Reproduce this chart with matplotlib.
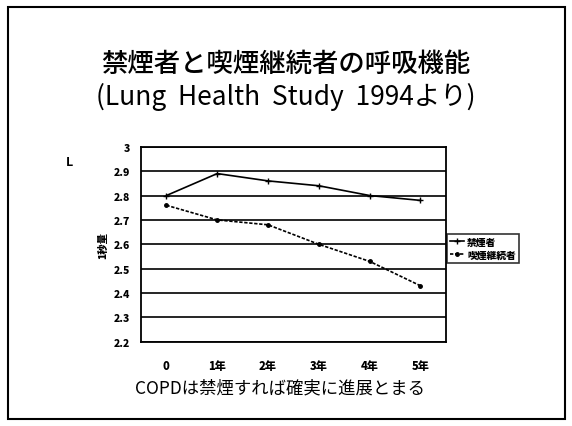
import matplotlib
matplotlib.use("Agg")
import matplotlib.pyplot as plt
from matplotlib.patches import Rectangle

plt.rcParams["font.family"] = ["Noto Sans CJK JP", "DejaVu Sans"]

years = ["0", "1年", "2年", "3年", "4年", "5年"]
quitters = [2.80, 2.89, 2.86, 2.84, 2.80, 2.78]
smokers = [2.76, 2.70, 2.68, 2.60, 2.53, 2.43]
yticks = [2.2, 2.3, 2.4, 2.5, 2.6, 2.7, 2.8, 2.9, 3.0]
ytick_labels = ["2.2", "2.3", "2.4", "2.5", "2.6", "2.7", "2.8", "2.9", "3"]

fig = plt.figure(figsize=(5.72, 4.27), dpi=100)
fig.patches.append(Rectangle((0.014, 0.017), 0.973, 0.965, transform=fig.transFigure,
                             fill=False, ec="black", lw=1.5))

fig.text(0.5, 0.85, "禁煙者と喫煙継続者の呼吸機能", ha="center", va="center",
         fontsize=19, fontweight="medium")
fig.text(0.5, 0.773, "(Lung  Health  Study  1994より)", ha="center", va="center",
         fontsize=19)

ax = fig.add_axes([0.2465, 0.197, 0.533, 0.457])
x = range(len(years))
ax.plot(x, quitters, color="black", lw=1.2, marker="+", ms=5, mew=1, label="禁煙者")
ax.plot(x, smokers, color="black", lw=1.2, ls=(0, (2, 1)), marker="o", ms=2.5,
        label="喫煙継続者")

ax.set_xlim(-0.5, len(years) - 0.5)
ax.set_ylim(2.2, 3.0)
ax.set_yticks(yticks)
ax.set_yticklabels(ytick_labels, fontsize=7.5, fontweight="heavy")
ax.set_xticks(list(x))
ax.set_xticklabels(years, fontsize=8, fontweight="heavy")
ax.tick_params(axis="both", length=0, pad=12)
ax.tick_params(axis="y", pad=8)
ax.grid(axis="y", color="black", lw=1.2)
for s in ax.spines.values():
    s.set_linewidth(1.3)

ax.set_ylabel("1秒量", fontsize=7.5, fontweight="heavy", labelpad=4)
fig.text(0.122, 0.62, "L", fontsize=9, fontweight="bold", ha="center", va="center")

ax.set_xlabel("COPDは禁煙すれば確実に進展とまる", fontsize=12.5)
ax.xaxis.set_label_coords(0.455, -0.185)

leg = ax.legend(loc="center left", bbox_to_anchor=(1.0, 0.48), frameon=True,
                fancybox=False, edgecolor="black", fontsize=7, handlelength=1.5,
                borderpad=0.3, labelspacing=0.3, handletextpad=0.3, borderaxespad=0.1)
for t in leg.get_texts():
    t.set_fontweight("heavy")
leg.get_frame().set_linewidth(1.2)

fig.savefig("out.png", dpi=100)
